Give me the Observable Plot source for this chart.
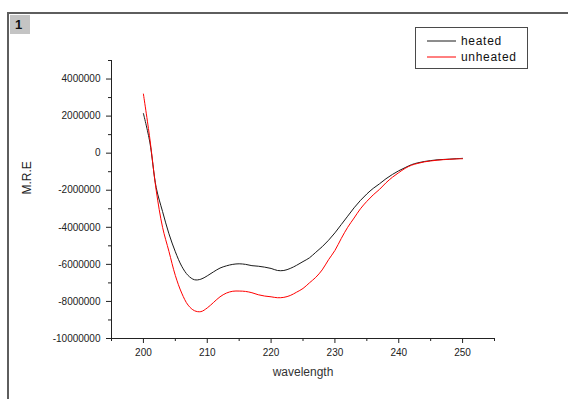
<!DOCTYPE html>
<html>
<head>
<meta charset="utf-8">
<script src="https://cdn.jsdelivr.net/npm/d3@7"></script>
<script src="https://cdn.jsdelivr.net/npm/@observablehq/plot@0.6"></script>
<style>
  html, body { margin: 0; padding: 0; background: #fff; }
  #wrap { position: relative; width: 568px; height: 399px; overflow: hidden; font-family: "Liberation Sans", Arial, sans-serif; }
  #wrap svg { position: absolute; left: 0; top: 0; }
  #window { position: absolute; left: 7px; top: 12px; right: -10px; bottom: -10px;
            border-left: 2px solid #5e5e5e; border-top: 2px solid #5e5e5e; }
  #tag { position: absolute; left: 10px; top: 15px; width: 20px; height: 19px; background: #c4c4c4;
         font-weight: bold; font-size: 13px; line-height: 19px; text-indent: 5px; color: #111; }
  #legend { position: absolute; left: 415px; top: 27px; width: 111px; height: 40px;
            border: 1px solid #4a4a4a; background: #fff; }
  #legend .row { position: absolute; left: 11px; height: 14px; font-size: 12px; letter-spacing: 0.7px; color: #111; }
  #legend .row svg { position: static; vertical-align: middle; margin-right: 5px; }
  #legend .row span { vertical-align: middle; }
  g[aria-label="x-title"] text { letter-spacing: 1px; }
  g[aria-label="y-tick-labels"] text, g[aria-label="x-tick-labels"] text { letter-spacing: 0.3px; }
</style>
</head>
<body>
<div id="wrap">
  <div id="window"></div>
  <div id="tag">1</div>
</div>
<script>
// Circular dichroism spectra: mean residue ellipticity vs. wavelength (nm)
const wavelength = [200, 201, 202, 203, 204, 205, 206, 207, 208, 209,
  210, 211, 212, 213, 214, 215, 216, 217, 218, 219,
  220, 221, 222, 223, 224, 225, 226, 227, 228, 229,
  230, 231, 232, 233, 234, 235, 236, 237, 238, 239,
  240, 241, 242, 243, 244, 245, 246, 247, 248, 249, 250];

const heated = [2140000, 600000, -1850000, -3150000, -4350000, -5320000, -6100000, -6600000, -6830000, -6800000,
  -6620000, -6400000, -6200000, -6080000, -6000000, -5970000, -6000000, -6070000, -6100000, -6150000,
  -6220000, -6330000, -6330000, -6220000, -6050000, -5850000, -5650000, -5350000, -5050000, -4700000,
  -4300000, -3850000, -3400000, -2950000, -2550000, -2200000, -1900000, -1650000, -1380000, -1150000,
  -950000, -780000, -620000, -520000, -450000, -400000, -360000, -340000, -320000, -300000, -280000];

const unheated = [3190000, 800000, -2000000, -4000000, -5300000, -6600000, -7550000, -8200000, -8500000, -8550000,
  -8350000, -8050000, -7750000, -7550000, -7450000, -7440000, -7460000, -7530000, -7640000, -7710000,
  -7750000, -7800000, -7780000, -7680000, -7500000, -7300000, -7000000, -6700000, -6300000, -5750000,
  -5250000, -4600000, -4000000, -3500000, -3000000, -2600000, -2250000, -1950000, -1600000, -1300000,
  -1050000, -820000, -650000, -550000, -470000, -420000, -380000, -350000, -330000, -310000, -300000];

const seriesNames = ["heated", "unheated"];
const seriesColors = ["#1a1a1a", "#ff0000"];

const xMajor = [200, 210, 220, 230, 240, 250];
const xMinor = [195, 205, 215, 225, 235, 245, 255];
const yMajor = [-10000000, -8000000, -6000000, -4000000, -2000000, 0, 2000000, 4000000];
const yMinor = [-9000000, -7000000, -5000000, -3000000, -1000000, 1000000, 3000000, 5000000];

const xTitle = "wavelength";
const yTitle = "M.R.E";

const rows = [];
seriesNames.forEach((name, k) => {
  const vals = k === 0 ? heated : unheated;
  wavelength.forEach((w, i) => rows.push({series: name, wavelength: w, mre: vals[i]}));
});

const ink = "#222";

const chart = Plot.plot({
  width: 568,
  height: 399,
  marginLeft: 111,
  marginRight: 74,
  marginTop: 60,
  marginBottom: 61,
  style: {fontFamily: "'Liberation Sans', Arial, sans-serif", fontSize: "10px", color: ink, background: "transparent", overflow: "visible"},
  x: {domain: [195, 255]},
  y: {domain: [-10000000, 5000000]},
  color: {domain: seriesNames, range: seriesColors},
  marks: [
    Plot.axisX({ticks: xMinor, tickSize: 3, tickFormat: () => "", label: null, stroke: ink}),
    Plot.axisX({ticks: xMajor, tickSize: 5, tickPadding: 5, tickFormat: d => String(d), label: null, stroke: ink, fill: ink, ariaLabel: "x-tick-labels"}),
    Plot.axisY({ticks: yMinor, tickSize: 3, tickFormat: () => "", label: null, stroke: ink}),
    Plot.axisY({ticks: yMajor, tickSize: 5, tickPadding: 6, tickFormat: d => String(d), label: null, stroke: ink, fill: ink, ariaLabel: "y-tick-labels"}),
    Plot.ruleY([-10000000], {stroke: ink}),
    Plot.ruleX([195], {stroke: ink}),
    Plot.line(rows, {x: "wavelength", y: "mre", z: "series", stroke: "series", strokeWidth: 1, curve: "catmull-rom"}),
    Plot.text([xTitle], {frameAnchor: "bottom", dy: 37, fontSize: 12, fill: "#333", ariaLabel: "x-title"}),
    Plot.text([yTitle], {frameAnchor: "left", rotate: -90, dx: -84, dy: -5, fontSize: 12, fill: "#222"})
  ]
});

const wrap = document.getElementById("wrap");
wrap.insertBefore(chart, wrap.firstChild);

// Legend box
const legend = document.createElement("div");
legend.id = "legend";
seriesNames.forEach((name, k) => {
  const row = document.createElement("div");
  row.className = "row";
  row.style.top = (k === 0 ? 5 : 21) + "px";
  row.innerHTML = `<svg width="29" height="4"><line x1="0" x2="29" y1="2" y2="2" stroke="${seriesColors[k]}" stroke-width="1"/></svg><span>${name}</span>`;
  legend.appendChild(row);
});
wrap.appendChild(legend);
</script>
</body>
</html>
